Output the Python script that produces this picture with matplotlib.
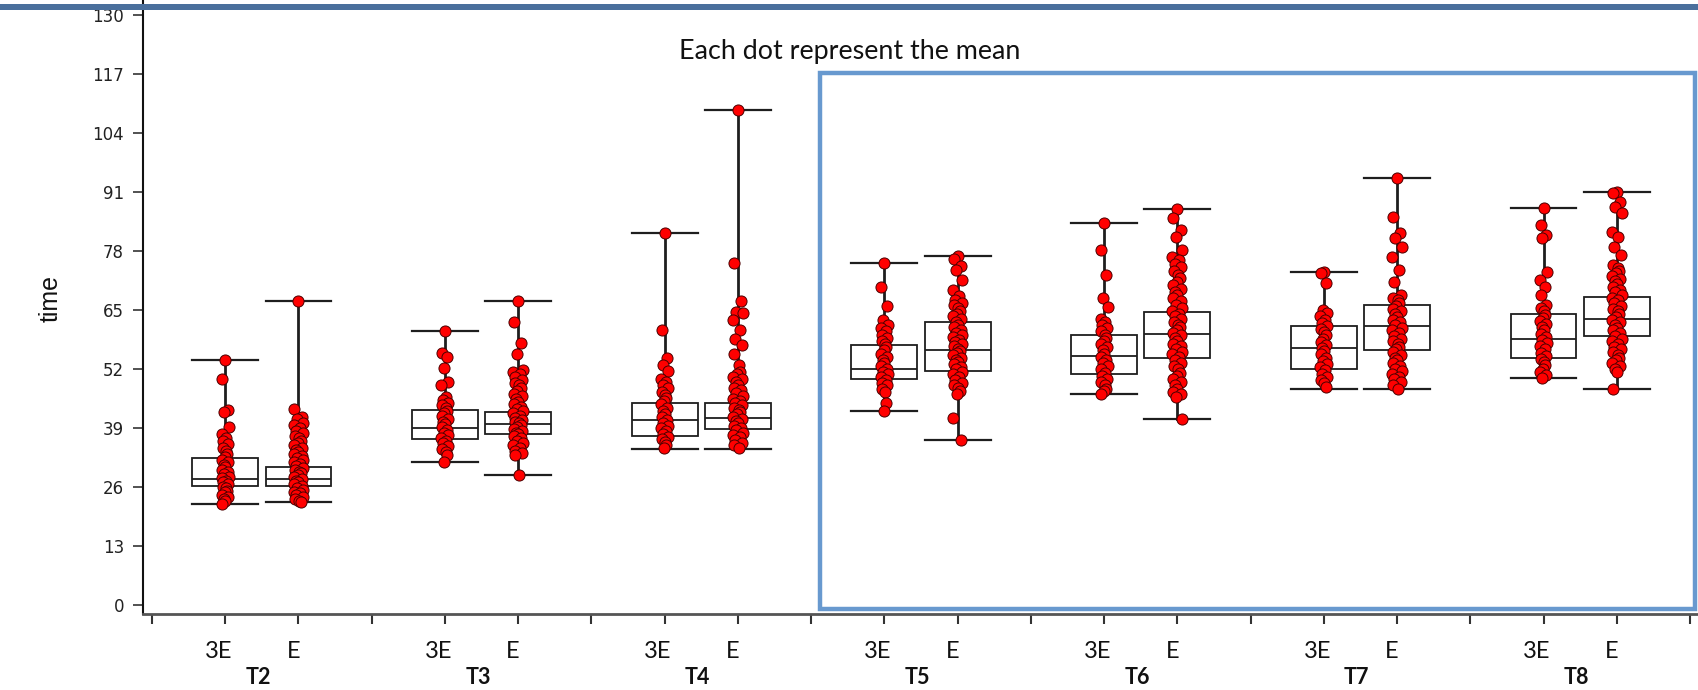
import matplotlib
matplotlib.use("Agg")
import matplotlib.pyplot as plt
from matplotlib.patches import Rectangle
from matplotlib.transforms import blended_transform_factory

# ---------------- data ----------------
groups = ["T2", "T3", "T4", "T5", "T6", "T7", "T8"]
subgroups = ["3E", "E"]

# box statistics per box, order: T2-3E, T2-E, T3-3E, T3-E, ...
whis_lo = [22.3, 22.8, 31.4, 28.6, 34.3, 34.3, 42.8, 36.3, 46.6, 41.0, 47.7, 47.7, 50.1, 47.7]
q1      = [26.2, 26.2, 36.5, 37.6, 37.3, 38.7, 49.7, 51.6, 50.9, 54.5, 51.9, 56.2, 54.5, 59.2]
median  = [27.8, 27.8, 39.1, 39.9, 40.7, 41.1, 52.1, 56.1, 54.8, 59.8, 56.7, 61.4, 58.7, 63.1]
q3      = [32.3, 30.4, 43.0, 42.6, 44.6, 44.6, 57.3, 62.3, 59.5, 64.5, 61.5, 66.2, 64.2, 67.9]
whis_hi = [54.0, 67.0, 60.4, 67.0, 81.9, 109.1, 75.4, 76.9, 84.2, 87.3, 73.4, 94.0, 87.4, 90.9]

t2_3e = [54.0, 49.8, 43.0, 42.6, 39.2, 37.6, 36.9, 36.1, 35.4, 34.6, 33.9, 33.3, 32.6, 32.0,
         31.4, 30.9, 30.3, 29.8, 29.3, 28.8, 28.3, 27.9, 27.4, 27.0, 26.6, 26.1, 25.7, 25.2,
         24.8, 24.3, 23.9, 23.4, 22.9, 22.3]
t2_e = [67.0, 43.2, 41.5, 40.9, 40.2, 39.6, 39.0, 38.4, 37.8, 37.3, 36.8, 36.2, 35.7, 35.2,
        34.7, 34.2, 33.7, 33.2, 32.8, 32.3, 31.9, 31.4, 31.0, 30.6, 30.2, 29.8, 29.4, 29.0,
        28.6, 28.2, 27.8, 27.4, 27.0, 26.6, 26.2, 25.8, 25.4, 25.0, 24.6, 24.2, 23.8, 23.4,
        23.0, 22.8]
t3_3e = [60.4, 55.5, 54.6, 52.3, 49.2, 48.5, 45.9, 45.2, 44.6, 44.0, 43.4, 42.8, 42.2, 41.6,
         41.0, 40.4, 39.8, 39.2, 38.6, 38.0, 37.4, 36.8, 36.2, 35.6, 35.0, 34.4, 33.7, 33.0, 31.4]
t3_e = [67.0, 62.3, 57.8, 55.4, 51.8, 51.3, 50.8, 50.2, 49.6, 49.0, 48.4, 47.8, 47.2, 46.6,
        46.0, 45.4, 44.8, 44.2, 43.7, 43.2, 42.7, 42.2, 41.7, 41.2, 40.8, 40.4, 40.0, 39.6,
        39.2, 38.8, 38.4, 38.0, 37.6, 37.2, 36.7, 36.2, 35.7, 35.2, 34.6, 34.0, 33.5, 33.0, 28.6]
t4_3e = [81.9, 60.6, 54.5, 52.9, 51.5, 49.9, 49.2, 48.5, 47.8, 47.0, 46.3, 45.6, 44.9, 44.2,
         43.5, 42.8, 42.1, 41.4, 40.7, 40.1, 39.5, 38.9, 38.3, 37.7, 37.1, 36.5, 35.9, 35.2, 34.5]
t4_e = [109.1, 75.3, 67.0, 64.6, 64.3, 62.8, 60.6, 58.7, 57.3, 55.4, 52.9, 51.4, 50.9, 50.3,
        49.7, 49.1, 48.5, 47.9, 47.3, 46.7, 46.1, 45.5, 45.0, 44.5, 44.0, 43.5, 43.0, 42.5,
        42.0, 41.5, 41.0, 40.5, 40.0, 39.5, 39.0, 38.5, 38.0, 37.5, 37.0, 36.4, 35.8, 35.2, 34.5]
t5_3e = [75.4, 70.1, 65.9, 62.8, 61.7, 61.0, 60.3, 59.6, 58.9, 58.2, 57.5, 56.8, 56.1, 55.4,
         54.7, 54.0, 53.3, 52.6, 52.0, 51.4, 50.8, 50.2, 49.6, 49.0, 48.4, 47.7, 47.0, 44.4, 42.8]
t5_e = [76.9, 76.2, 74.6, 73.8, 71.6, 69.4, 68.1, 67.2, 66.6, 66.0, 65.4, 64.8, 64.2, 63.6,
        63.0, 62.4, 61.8, 61.2, 60.6, 60.0, 59.5, 59.0, 58.5, 58.0, 57.5, 57.0, 56.5, 56.0,
        55.5, 55.0, 54.5, 54.0, 53.5, 53.0, 52.5, 52.0, 51.4, 50.8, 50.2, 49.6, 49.0, 48.4,
        47.8, 47.2, 46.6, 41.1, 36.3]
t6_3e = [84.2, 78.3, 72.7, 67.6, 65.7, 63.1, 62.4, 61.7, 61.0, 60.3, 59.6, 58.9, 58.2, 57.5,
         56.8, 56.1, 55.4, 54.7, 54.0, 53.3, 52.6, 51.9, 51.2, 50.5, 49.8, 49.1, 48.4, 47.7,
         47.1, 46.6]
t6_e = [87.3, 85.2, 82.6, 81.1, 78.2, 76.7, 76.0, 75.2, 74.4, 73.6, 72.8, 72.0, 71.2, 70.4,
        69.7, 69.0, 68.3, 67.6, 66.9, 66.2, 65.5, 64.8, 64.2, 63.6, 63.0, 62.4, 61.8, 61.2,
        60.6, 60.0, 59.4, 58.8, 58.2, 57.6, 57.0, 56.4, 55.8, 55.2, 54.6, 54.0, 53.3, 52.6,
        51.9, 51.2, 50.5, 49.8, 49.1, 48.4, 47.7, 47.0, 46.4, 45.9, 41.0]
t7_3e = [73.4, 73.2, 70.9, 65.0, 64.3, 63.6, 62.9, 62.2, 61.5, 60.8, 60.1, 59.4, 58.7, 58.0,
         57.3, 56.6, 55.9, 55.2, 54.5, 53.8, 53.1, 52.4, 51.7, 51.0, 50.3, 49.6, 48.9, 48.1]
t7_e = [94.0, 85.5, 81.9, 80.8, 78.9, 76.7, 73.8, 71.2, 68.3, 67.7, 67.1, 66.5, 65.9, 65.3,
        64.7, 64.1, 63.5, 62.9, 62.3, 61.7, 61.1, 60.5, 59.9, 59.3, 58.7, 58.1, 57.5, 56.9,
        56.3, 55.7, 55.1, 54.5, 53.9, 53.3, 52.7, 52.1, 51.5, 50.9, 50.3, 49.7, 49.1, 48.5, 47.7]
t8_3e = [87.4, 83.7, 81.5, 80.8, 73.4, 71.6, 70.1, 68.3, 66.1, 65.4, 64.7, 64.0, 63.3, 62.6,
         61.9, 61.2, 60.5, 59.8, 59.1, 58.4, 57.7, 57.0, 56.3, 55.6, 54.9, 54.2, 53.5, 52.8,
         52.1, 51.4, 50.7, 50.1]
t8_e = [90.9, 90.7, 88.8, 87.7, 86.3, 82.2, 81.1, 78.9, 77.1, 74.9, 74.3, 73.7, 73.1, 72.5,
        71.9, 71.3, 70.7, 70.1, 69.5, 68.9, 68.3, 67.7, 67.1, 66.5, 65.9, 65.3, 64.7, 64.1,
        63.5, 62.9, 62.3, 61.7, 61.1, 60.5, 59.9, 59.3, 58.7, 58.1, 57.5, 56.9, 56.3, 55.7,
        55.1, 54.5, 53.9, 53.3, 52.7, 52.1, 51.4, 47.7]

dots = [t2_3e, t2_e, t3_3e, t3_e, t4_3e, t4_e, t5_3e, t5_e,
        t6_3e, t6_e, t7_3e, t7_e, t8_3e, t8_e]

y_ticks = [0, 13, 26, 39, 52, 65, 78, 91, 104, 117, 130]
y_label = "time"
note = "Each dot represent the mean"

# ---------------- figure ----------------
W, H = 1698, 690
fig = plt.figure(figsize=(W / 100, H / 100), dpi=100)
fig.patch.set_facecolor("white")

ax_left, ax_right, ax_bottom, ax_top = 143, 1698, 614, 0
ax = fig.add_axes([ax_left / W, (H - ax_bottom) / H,
                   (ax_right - ax_left) / W, (ax_bottom - ax_top) / H])

n_slots = 3 * len(groups)            # 3E, E, separator per group
positions = []
for g in range(len(groups)):
    positions += [3 * g + 1, 3 * g + 2]

stats = []
for i in range(len(positions)):
    stats.append(dict(whislo=whis_lo[i], q1=q1[i], med=median[i], q3=q3[i],
                      whishi=whis_hi[i], fliers=[]))

dark = "#1e1e1e"
ax.bxp(stats, positions=positions, widths=0.9, capwidths=0.9, showfliers=False,
       patch_artist=True,
       boxprops=dict(facecolor="white", edgecolor=dark, linewidth=1.3),
       medianprops=dict(color=dark, linewidth=1.3),
       whiskerprops=dict(color=dark, linewidth=2.0),
       capprops=dict(color=dark, linewidth=1.6),
       zorder=2)

# deterministic horizontal spread pattern for the dots (layout only)
spread = [0.0, -0.05, 0.04, -0.02, 0.06, -0.06, 0.02, -0.035,
          0.05, -0.045, 0.01, 0.03, -0.01, -0.055, 0.045, -0.025]
for i, (p, vals) in enumerate(zip(positions, dots)):
    k = 0.8 if i % 2 == 0 else 1.1
    xs = [p + k * spread[j % len(spread)] for j in range(len(vals))]
    ax.plot(xs, vals, linestyle="none", marker="o", markersize=8,
            markerfacecolor="#ff0000", markeredgecolor="#4a0000",
            markeredgewidth=0.7, zorder=4)

# axes scaling
px_per_unit_y = (605 - 15) / 130.0
y0_px = 605
ax.set_ylim((y0_px - ax_bottom) / px_per_unit_y, (y0_px - ax_top) / px_per_unit_y)
px_per_slot = (1690 - 152) / 21.0
ax.set_xlim((ax_left - 152) / px_per_slot, (ax_right - 152) / px_per_slot)

ax.set_yticks(y_ticks)
ax.set_yticklabels([str(v) for v in y_ticks], fontsize=12, color="#222222",
                   family=["DejaVu Sans"])
ax.set_xticks(list(range(n_slots + 1)))
ax.set_xticklabels([])
ax.tick_params(axis="y", direction="out", length=7.2, width=1.2, color="#333333", pad=6.5)
ax.tick_params(axis="x", direction="out", length=7, width=1.5, color="#333333")

for s in ["top", "right"]:
    ax.spines[s].set_visible(False)
ax.spines["left"].set_color("#111111")
ax.spines["left"].set_linewidth(1.5)
ax.spines["bottom"].set_color("#555555")
ax.spines["bottom"].set_linewidth(2)

# category labels
trans = blended_transform_factory(ax.transData, ax.transAxes)
label_y = -(652 - ax_bottom) / (ax_bottom - ax_top)
group_y = -(677 - ax_bottom) / (ax_bottom - ax_top)
for g, name in enumerate(groups):
    ax.text(3 * g + 1 - 0.09, label_y, subgroups[0], transform=trans, ha="center",
            va="center", fontsize=17, color="#111111", family=["Lato", "DejaVu Sans"])
    ax.text(3 * g + 2 - 0.07, label_y, subgroups[1], transform=trans, ha="center",
            va="center", fontsize=17, color="#111111", family=["Lato", "DejaVu Sans"])
    ax.text(3 * g + 1.45, group_y, name, transform=trans, ha="center", va="center",
            fontsize=15.5, fontweight="bold", color="#111111",
            family=["Lato", "DejaVu Sans"])

fig.text(51 / W, 1 - 298 / H, y_label, rotation=90, ha="center", va="center",
         fontsize=18, color="#111111",
         family=["Liberation Sans Narrow", "Liberation Sans", "DejaVu Sans"])

fig.text(850 / W, 1 - 51 / H, note, ha="center", va="center", fontsize=19.4,
         color="#111111", family=["Lato", "DejaVu Sans"])

# top bar and highlight frame
fig.patches.append(Rectangle((0, 1 - 9.5 / H), 1, 5.5 / H, transform=fig.transFigure,
                             facecolor="#4a6f9c", edgecolor="none", zorder=10))
rx0, ry0, rx1, ry1 = 820, 73, 1695, 609
fig.patches.append(Rectangle((rx0 / W, 1 - ry1 / H), (rx1 - rx0) / W, (ry1 - ry0) / H,
                             transform=fig.transFigure, facecolor="none",
                             edgecolor="#6899cf", linewidth=3.2, zorder=10))

fig.savefig("out.png", dpi=100)
